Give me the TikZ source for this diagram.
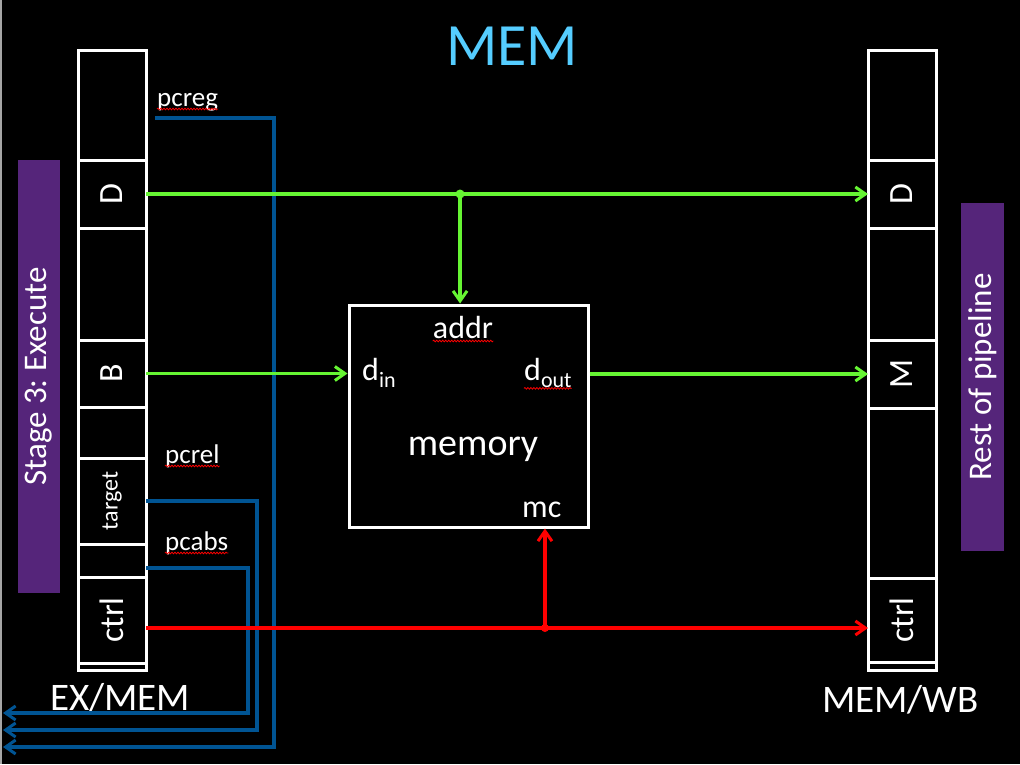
\documentclass[tikz,border=0pt]{standalone}
\usepackage{fontspec}
\setmainfont{Carlito}
\usepackage{graphicx}
\usepackage{xcolor}
\usepackage{tikz}
\usetikzlibrary{arrows.meta, positioning, calc, decorations.pathmorphing}
\definecolor{MEMTitle}{RGB}{85, 205, 255}
\definecolor{MEMPurple}{RGB}{85, 37, 122}
\definecolor{MEMGreen}{RGB}{102, 245, 51}
\definecolor{MEMBlue}{RGB}{0, 84, 147}
\definecolor{MEMRed}{RGB}{255, 0, 0}
\frenchspacing

\tikzset{
  regcell/.style={draw=white, line width=3pt, minimum width=68pt, inner sep=0pt,
    outer sep=0pt, text=white, font=\fontsize{34}{36}\selectfont},
  stagebar/.style={fill=MEMPurple, inner sep=0pt, text=white,
    font=\fontsize{33}{35}\selectfont},
  lbl/.style={inner sep=0pt, text=white},
  wire/.style={line width=3.5pt, -{Straight Barb[length=10pt, width=14pt, line width=3pt]}},
  greenwire/.style={wire, draw=MEMGreen},
  redwire/.style={wire, draw=MEMRed},
  buswire/.style={wire, draw=MEMBlue},
  squiggle/.style={draw=MEMRed, line width=0.8pt, decorate,
    decoration={snake, amplitude=0.8pt, segment length=3pt}}
}

\begin{document}
\begin{tikzpicture}[x=1pt, y=-1pt]
  \useasboundingbox (0,0) rectangle (1020,764);
  \fill[black] (0,0) rectangle (1020,764);
  \draw[gray!70, line width=1.5pt] (0.75,0) -- (0.75,764);

  % title
  \node[lbl, text=MEMTitle, font=\fontsize{60}{62}\selectfont] (title) at (512,46) {MEM};

  % side bars
  \node[stagebar, minimum width=42pt, minimum height=433pt] (stage) at (39,376.5)
    {\rotatebox{90}{Stage 3: Execute}};
  \node[stagebar, minimum width=43pt, minimum height=348pt] (rest) at (982.5,377)
    {\rotatebox{90}{Rest of pipeline}};

  % EX/MEM register
  \node[regcell, minimum height=110pt] (L0) at (112,105) {};
  \node[regcell, minimum height=68pt, below=0pt of L0] (LD) {\rotatebox{90}{D}};
  \node[regcell, minimum height=112pt, below=0pt of LD] (L1) {};
  \node[regcell, minimum height=67pt, below=0pt of L1] (LB) {\rotatebox{90}{B}};
  \node[regcell, minimum height=51pt, below=0pt of LB] (L2) {};
  \node[regcell, minimum height=86pt, below=0pt of L2, font=\fontsize{24}{26}\selectfont]
    (Ltarget) {\rotatebox{90}{target}};
  \node[regcell, minimum height=33pt, below=0pt of Ltarget] (L3) {};
  \node[regcell, minimum height=86pt, below=0pt of L3] (Lctrl) {\rotatebox{90}{ctrl}};
  \node[regcell, minimum height=7pt, below=0pt of Lctrl] (L4) {};
  \node[lbl, anchor=base west, font=\fontsize{39}{41}\selectfont] (exmem) at (50,710) {EX/MEM};

  % MEM/WB register
  \node[regcell, minimum height=110pt] (R0) at (902,105) {};
  \node[regcell, minimum height=68pt, below=0pt of R0] (RD) {\rotatebox{90}{D}};
  \node[regcell, minimum height=112pt, below=0pt of RD] (R1) {};
  \node[regcell, minimum height=68pt, below=0pt of R1] (RM) {\rotatebox{90}{M}};
  \node[regcell, minimum height=170pt, below=0pt of RM] (R2) {};
  \node[regcell, minimum height=84pt, below=0pt of R2] (Rctrl) {\rotatebox{90}{ctrl}};
  \node[regcell, minimum height=8pt, below=0pt of Rctrl] (R3) {};
  \node[lbl, anchor=base west, font=\fontsize{39}{41}\selectfont] (memwb) at (822,712) {MEM/WB};

  % memory unit
  \node[draw=white, line width=3pt, minimum width=239pt, minimum height=222pt,
    inner sep=0pt] (mem) at (468.5,416) {};
  \node[lbl, font=\fontsize{38}{40}\selectfont, anchor=base] (memory) at (473,455) {memory};
  \node[lbl, font=\fontsize{32}{34}\selectfont, anchor=base] (addr) at (463,338) {addr};
  \node[lbl, font=\fontsize{32}{34}\selectfont, anchor=base west] (din) at (362,380)
    {d\lower7pt\hbox{\fontsize{22}{24}\selectfont in}};
  \node[lbl, font=\fontsize{32}{34}\selectfont, anchor=base west] (dout) at (524,380)
    {d\lower7pt\hbox{\fontsize{22}{24}\selectfont out}};
  \node[lbl, font=\fontsize{32}{34}\selectfont, anchor=base west] (mc) at (522,517) {mc};

  % pc labels
  \node[lbl, font=\fontsize{27}{29}\selectfont, anchor=base west] (pcreg) at (157,106) {pcreg};
  \node[lbl, font=\fontsize{27}{29}\selectfont, anchor=base west] (pcrel) at (165,463) {pcrel};
  \node[lbl, font=\fontsize{27}{29}\selectfont, anchor=base west] (pcabs) at (165,550) {pcabs};

  % spell-check marks
  \foreach \w in {pcreg, pcrel, pcabs, addr}
    \draw[squiggle] ([yshift=-3pt]\w.base west) -- ([yshift=-3pt]\w.base east);
  \draw[squiggle] ([yshift=-1pt]dout.south west) -- ([yshift=-1pt]dout.south east);

  % pc buses back to fetch
  \coordinate (regout) at (3,747);
  \coordinate (relout) at (3,730);
  \coordinate (absout) at (3,713);
  \draw[buswire] ([shift={(-2pt,-12pt)}]pcreg.base west) -- ++(119,0) |- (regout);
  \draw[buswire] (Ltarget.east) -- ++(111,0) |- (relout);
  \draw[buswire] ([yshift=-7.5pt]L3.east) -- ++(102,0) |- (absout);

  % data paths
  \draw[greenwire] (LD.east) -- (RD.west);
  \coordinate (addrsplit) at ($(LD.east)!0.435!(RD.west)$);
  \fill[MEMGreen] (addrsplit) circle (4.5pt);
  \draw[greenwire] (addrsplit) -- (addrsplit |- mem.north);
  \draw[greenwire] (LB.east) -- (LB.east -| mem.west);
  \draw[greenwire] (RM.west -| mem.east) -- (RM.west);

  % control path
  \draw[redwire] ([yshift=-8pt]Lctrl.east) -- ([yshift=-8pt]Rctrl.west);
  \coordinate (mcsplit) at ($([yshift=-8pt]Lctrl.east)!0.5526!([yshift=-8pt]Rctrl.west)$);
  \fill[MEMRed] (mcsplit) circle (4pt);
  \draw[redwire] (mcsplit) -- (mcsplit |- mem.south);
\end{tikzpicture}
\end{document}
